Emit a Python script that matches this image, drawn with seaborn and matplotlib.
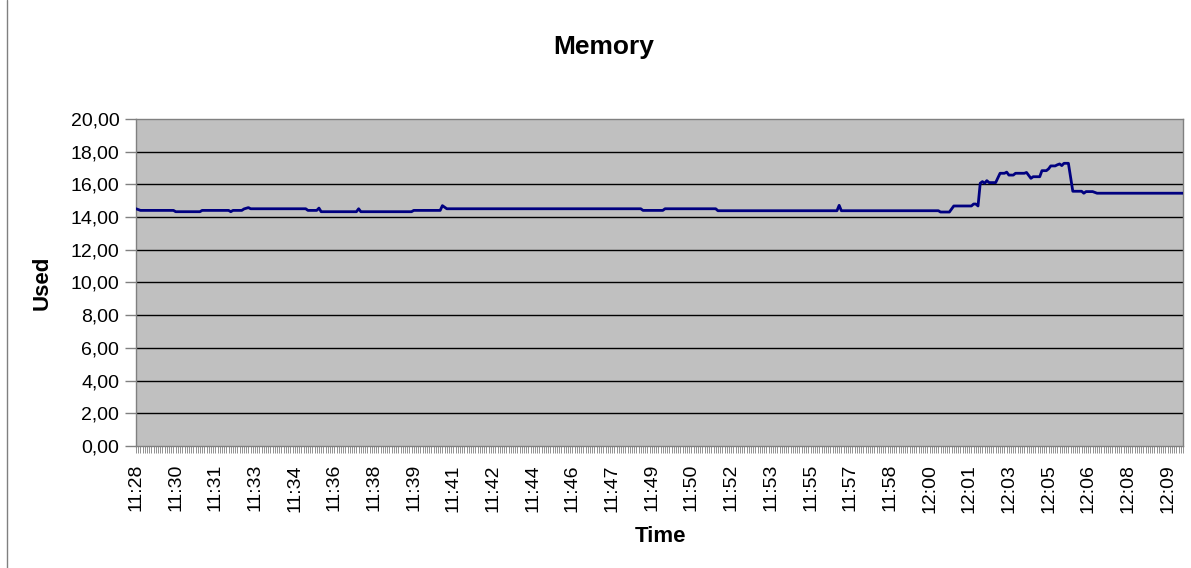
import matplotlib
matplotlib.use("Agg")
import matplotlib.pyplot as plt
from matplotlib.ticker import MultipleLocator, FuncFormatter
from matplotlib.lines import Line2D
import seaborn as sns

# sample index of each vertex of the line, and memory used at that sample
sample_idx = [0, 2, 17, 18, 29, 30, 42, 43, 44, 48, 49, 51, 52, 77, 78, 82, 83, 84,
              100, 101, 102, 125, 126, 138, 139, 141, 229, 230, 239, 240, 263, 264,
              318, 319, 320, 364, 365, 369, 371, 379, 380, 381, 382, 383, 384, 385,
              386, 387, 390, 392, 394, 395, 396, 398, 399, 403, 404, 406, 407, 410,
              411, 413, 414, 415, 417, 418, 419, 420, 421, 423, 425, 429, 430, 431,
              434, 436, 475]
used = [14.51, 14.41, 14.41, 14.33, 14.33, 14.41, 14.41, 14.33, 14.41, 14.41, 14.50,
        14.58, 14.51, 14.51, 14.41, 14.41, 14.55, 14.33,
        14.33, 14.51, 14.33, 14.33, 14.41, 14.41, 14.70, 14.51, 14.51, 14.41,
        14.41, 14.51, 14.51, 14.39,
        14.39, 14.72, 14.39, 14.39, 14.31, 14.31, 14.68, 14.68, 14.80, 14.80,
        14.68, 16.07, 16.17, 16.07,
        16.23, 16.11, 16.11, 16.68, 16.68, 16.75, 16.57, 16.57, 16.68, 16.68,
        16.73, 16.37, 16.47, 16.47,
        16.84, 16.84, 16.95, 17.13, 17.13, 17.20, 17.25, 17.15, 17.29, 17.29,
        15.58, 15.58, 15.46, 15.56,
        15.56, 15.46, 15.46]

time_labels = ["11:28", "11:30", "11:31", "11:33", "11:34", "11:36", "11:38",
               "11:39", "11:41", "11:42", "11:44", "11:46", "11:47", "11:49",
               "11:50", "11:52", "11:53", "11:55", "11:57", "11:58", "12:00",
               "12:01", "12:03", "12:05", "12:06", "12:08", "12:09"]
label_step = 18
n_samples = 476
y_ticks = [0, 2, 4, 6, 8, 10, 12, 14, 16, 18, 20]

sns.set_theme(style="white")
plt.rcParams["font.family"] = ["Liberation Sans", "DejaVu Sans"]
plt.rcParams["text.color"] = "black"
plt.rcParams["axes.labelcolor"] = "black"

fig = plt.figure(figsize=(11.91, 5.68), dpi=100)
ax = fig.add_axes([0.1142, 0.2148, 0.8791, 0.5757])
ax.set_facecolor("#C0C0C0")

for v in y_ticks[1:-1]:
    ax.axhline(v, color="black", lw=1, zorder=1)

sns.lineplot(x=sample_idx, y=used, ax=ax, color="#000080", lw=2, zorder=3)

ax.set_xlim(0, n_samples - 1)
ax.set_ylim(0, 20)
ax.set_yticks(y_ticks)
ax.yaxis.set_major_formatter(FuncFormatter(lambda v, p: f"{v:.2f}".replace(".", ",")))
ax.set_xticks([i * label_step for i in range(len(time_labels))])
ax.set_xticklabels(time_labels, rotation=90)
ax.xaxis.set_minor_locator(MultipleLocator(1))

ax.tick_params(axis="y", length=8, width=1, color="#808080", labelcolor="black",
               labelsize=14, pad=4, left=True, direction="out")
ax.tick_params(axis="x", which="both", length=5, width=0.6, color="#808080",
               labelcolor="black", labelsize=14, pad=8, bottom=True, direction="out")

for s in ax.spines.values():
    s.set_color("#808080")
    s.set_linewidth(1)

fig.text(604 / 1191, 1 - 47 / 568, "Memory", fontsize=19, fontweight="bold",
         ha="center", va="center")
ax.set_ylabel("Used", fontsize=16, fontweight="bold")
ax.set_xlabel("Time", fontsize=16, fontweight="bold")
ax.yaxis.set_label_coords((42 - 136) / 1047, 0.5)
ax.xaxis.set_label_coords((660 - 136) / 1047, (446 - 537) / 327)
ax.xaxis.label.set_va("center")
ax.yaxis.label.set_va("center")

fig.add_artist(Line2D([7 / 1191, 7 / 1191], [0, 1], color="#808080", lw=1,
                      transform=fig.transFigure))

fig.savefig("out.png", dpi=100)
